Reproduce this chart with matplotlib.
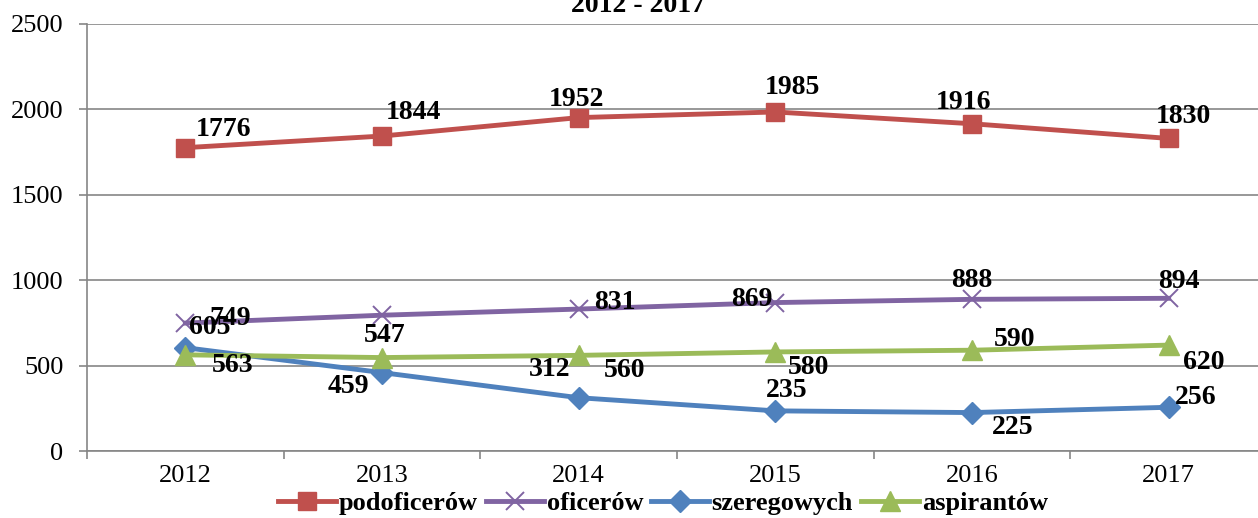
import matplotlib
matplotlib.use("Agg")
import matplotlib.pyplot as plt
from matplotlib.lines import Line2D

plt.rcParams['font.family'] = ['Liberation Serif', 'DejaVu Serif']

# Data
years = ["2012", "2013", "2014", "2015", "2016", "2017"]
podoficerow = [1776, 1844, 1952, 1985, 1916, 1830]
oficerow = [749, 795, 831, 869, 888, 894]
szeregowych = [605, 459, 312, 235, 225, 256]
aspirantow = [563, 547, 560, 580, 590, 620]
show_oficerow_label = [True, False, True, True, True, True]
y_ticks = [0, 500, 1000, 1500, 2000, 2500]
series_names = ["podoficerów", "oficerów", "szeregowych", "aspirantów"]
title_text = "2012 - 2017"

# Label offsets (pixels) for each series' value labels
off_pod = [(38, 18), (31, 24), (-2, 18), (17, 24), (-9, 21), (15, 22)]
off_ofi = [(45, 5), (0, 0), (36, 7), (-23, 3), (0, 19), (10, 17)]
off_sze = [(24, 20), (-34, -14), (-29, 28), (11, 20), (41, -15), (27, 10)]
off_asp = [(47, -11), (3, 22), (46, -15), (33, -16), (43, 11), (35, -17)]

C_RED = "#C0504D"
C_PUR = "#8064A2"
C_BLU = "#4F81BD"
C_GRN = "#9BBB59"
GRID = "#868686"

fig = plt.figure(figsize=(12.58, 5.18), dpi=100)
ax = fig.add_axes([87 / 1258, 67 / 518, 1180 / 1258, 427 / 518])

x = list(range(len(years)))
lw = 3.5
ax.plot(x, podoficerow, color=C_RED, lw=lw, marker="s", ms=13, zorder=3)
ax.plot(x, oficerow, color=C_PUR, lw=lw, marker="x", ms=13, mew=1.4, zorder=3)
ax.plot(x, szeregowych, color=C_BLU, lw=lw, marker="D", ms=11, zorder=3)
ax.plot(x, aspirantow, color=C_GRN, lw=lw, marker="^", ms=14, zorder=3)

label_kw = dict(textcoords="offset pixels", ha="center", va="center",
                fontsize=20, fontweight="bold", color="black", zorder=5)
for i in x:
    ax.annotate(str(podoficerow[i]), (i, podoficerow[i]), xytext=off_pod[i], **label_kw)
    if show_oficerow_label[i]:
        ax.annotate(str(oficerow[i]), (i, oficerow[i]), xytext=off_ofi[i], **label_kw)
    ax.annotate(str(szeregowych[i]), (i, szeregowych[i]), xytext=off_sze[i], **label_kw)
    ax.annotate(str(aspirantow[i]), (i, aspirantow[i]), xytext=off_asp[i], **label_kw)

ax.set_xlim(-0.5, len(years) - 0.5)
ax.set_ylim(0, 2500)
ax.set_yticks(y_ticks)
ax.set_yticklabels([str(v) for v in y_ticks])
ax.set_xticks(x)
ax.set_xticklabels(years)
ax.set_xticks([i - 0.5 for i in range(len(years) + 1)], minor=True)

ax.grid(axis="y", color=GRID, lw=1.2, zorder=0)
ax.set_axisbelow(True)
for s in ["top", "right"]:
    ax.spines[s].set_visible(False)
for s in ["left", "bottom"]:
    ax.spines[s].set_color(GRID)
    ax.spines[s].set_linewidth(1.2)

ax.tick_params(axis="y", length=6, width=1.2, color=GRID, labelsize=19, pad=11)
ax.tick_params(axis="x", which="major", length=0, labelsize=19, pad=10)
ax.tick_params(axis="x", which="minor", length=6, width=1.2, color=GRID)

fig.text(638 / 1258, 1 - 12 / 518, title_text, ha="center", va="baseline",
         fontsize=20, fontweight="bold")

handles = [
    Line2D([], [], color=C_RED, lw=lw, marker="s", ms=13),
    Line2D([], [], color=C_PUR, lw=lw, marker="x", ms=13, mew=1.4),
    Line2D([], [], color=C_BLU, lw=lw, marker="D", ms=11),
    Line2D([], [], color=C_GRN, lw=lw, marker="^", ms=14),
]
fig.legend(handles, series_names, loc="center", bbox_to_anchor=(663 / 1258, 1 - 503 / 518),
           ncol=4, frameon=False, handlelength=2.2, handletextpad=0.1,
           columnspacing=0.3, prop={"weight": "bold", "size": 19})

fig.savefig("out.png", dpi=100)
